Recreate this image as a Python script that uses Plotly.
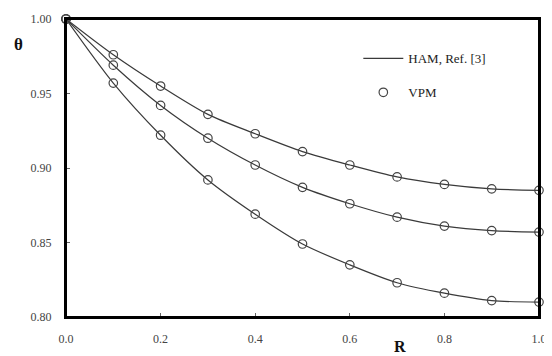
import plotly.graph_objects as go

R = [0.0, 0.1, 0.2, 0.3, 0.4, 0.5, 0.6, 0.7, 0.8, 0.9, 1.0]
theta_upper = [1.0, 0.976, 0.955, 0.936, 0.923, 0.911, 0.902, 0.894, 0.889, 0.886, 0.885]
theta_middle = [1.0, 0.969, 0.942, 0.920, 0.902, 0.887, 0.876, 0.867, 0.861, 0.858, 0.857]
theta_lower = [1.0, 0.957, 0.922, 0.892, 0.869, 0.849, 0.835, 0.823, 0.816, 0.811, 0.810]
x_ticks = [0.0, 0.2, 0.4, 0.6, 0.8, 1.0]
y_ticks = [0.80, 0.85, 0.90, 0.95, 1.00]

fig = go.Figure()
line_style = dict(color="#3a3a3a", width=1.2, shape="spline", smoothing=0.8)
marker_style = dict(symbol="circle-open", size=8.5, color="#444444", line=dict(width=1.2))

for i, ys in enumerate([theta_upper, theta_middle, theta_lower]):
    fig.add_trace(go.Scatter(x=R, y=ys, mode="lines", line=line_style, cliponaxis=False,
                             name="HAM, Ref. [3]", legendgroup="ham", showlegend=(i == 0)))
for i, ys in enumerate([theta_upper, theta_middle, theta_lower]):
    fig.add_trace(go.Scatter(x=R, y=ys, mode="markers", marker=marker_style, cliponaxis=False,
                             name="VPM", legendgroup="vpm", showlegend=(i == 0)))

font_serif = "Liberation Serif"
fig.update_layout(
    width=544, height=348,
    margin=dict(l=58, r=13, t=4, b=39),
    paper_bgcolor="white", plot_bgcolor="white",
    font=dict(family=font_serif, size=12, color="#444444"),
    showlegend=True,
    legend=dict(x=0.618, y=0.918, xanchor="left", yanchor="top",
                font=dict(family=font_serif, size=13, color="#222222"),
                bgcolor="rgba(0,0,0,0)", tracegroupgap=14, itemwidth=40),
    xaxis=dict(range=[0, 1], tickvals=x_ticks, ticktext=[f"{v:.1f}" for v in x_ticks],
               showgrid=False, zeroline=False, showline=True, linecolor="black",
               linewidth=2, mirror=True, ticks="inside", ticklen=4, tickcolor="#666666",
               ticklabelstandoff=10, ticklabeloverflow="allow"),
    yaxis=dict(range=[0.8, 1.0], tickvals=y_ticks, ticktext=[f"{v:.2f}" for v in y_ticks],
               showgrid=False, zeroline=False, showline=True, linecolor="black",
               linewidth=2, mirror=True, ticks="inside", ticklen=4, tickcolor="#666666",
               ticklabelstandoff=10, ticklabeloverflow="allow"),
    shapes=[dict(type="rect", xref="paper", yref="paper", x0=0, x1=1, y0=0, y1=1,
                 line=dict(color="black", width=2), layer="above")],
    annotations=[
        dict(text="<b>θ</b>", x=-0.101, y=0.915, xref="paper", yref="paper", showarrow=False,
             xanchor="center", yanchor="middle",
             font=dict(family=font_serif, size=17, color="#111111")),
        dict(text="<b>R</b>", x=0.706, y=-0.1, xref="paper", yref="paper", showarrow=False,
             xanchor="center", yanchor="middle",
             font=dict(family=font_serif, size=16, color="#111111")),
    ],
)

fig.write_html("out.html")
